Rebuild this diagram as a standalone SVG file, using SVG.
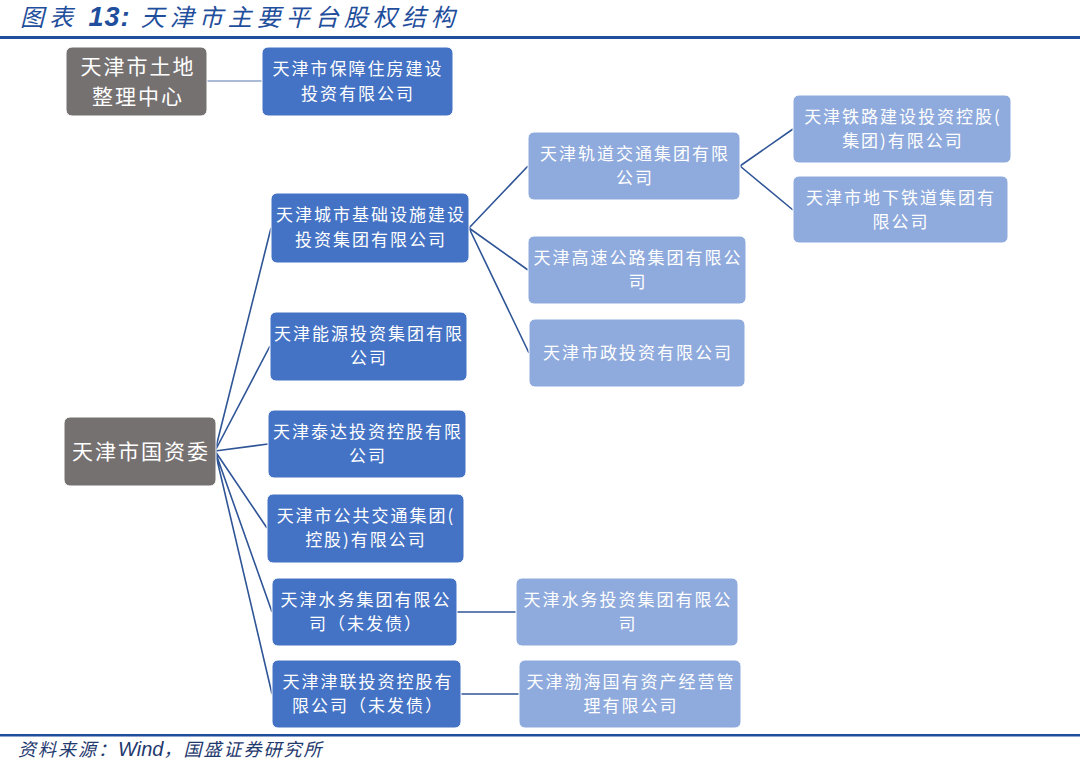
<svg xmlns="http://www.w3.org/2000/svg" width="1080" height="760" viewBox="0 0 1080 760">
<style>
.t{font-family:"Noto Sans CJK SC","Liberation Sans",sans-serif;fill:#fff;text-anchor:middle}
.s{font-size:17px;letter-spacing:2px}
.g{font-size:21px;letter-spacing:2px}
.dk{fill:#4472C4;stroke:#fff;stroke-width:1}
.lt{fill:#8FAADC;stroke:#fff;stroke-width:1}
.gy{fill:#767171;stroke:#fff;stroke-width:1}
.c{stroke:#2F5597;stroke-width:1.6;fill:none}
</style>
<rect width="1080" height="760" fill="#fff"/>
<text x="20" y="26" font-family="'Noto Sans CJK SC','Liberation Sans',sans-serif" font-size="24" font-style="italic" letter-spacing="5" fill="#1F4E9C">图表 <tspan font-family="'Liberation Sans',sans-serif" font-weight="bold" font-size="27" letter-spacing="1">13:</tspan> 天津市主要平台股权结构</text>
<rect x="0" y="36" width="1080" height="3" fill="#1F4E9C"/>
<rect x="0" y="734" width="1080" height="2.5" fill="#1F4E9C"/>
<text x="18" y="756" font-family="'Noto Sans CJK SC','Liberation Sans',sans-serif" font-size="18" font-style="italic" letter-spacing="2" fill="#1F3A6E">资料来源：<tspan font-family="'Liberation Sans',sans-serif" font-size="20" letter-spacing="0">Wind</tspan>，国盛证券研究所</text>
<g id="connectors">
<line x1="207" y1="81" x2="262" y2="81" stroke="#8FA3C8" stroke-width="1.6"/>
<path class="c" d="M215 451 L271 228 M215 451 L270 346 M215 451 L268 444 M215 451 L267 528 M215 451 L272 612 M215 451 L272 694"/>
<path class="c" d="M469 228 L528 166 M469 228 L528 270 M469 228 L529 353"/>
<path class="c" d="M740 166 L793 129 M740 166 L793 210"/>
<path class="c" d="M457 612 L516 612 M461 694 L519 694"/>
</g>
<g id="n-land"><rect class="gy" x="66" y="47" width="141" height="69" rx="6"/><text class="t g" x="138" y="74">天津市土地</text><text class="t g" x="138" y="104">整理中心</text></g>
<g id="n-housing"><rect class="dk" x="262" y="47" width="191" height="69" rx="6"/><text class="t s" x="358" y="75">天津市保障住房建设</text><text class="t s" x="358" y="100">投资有限公司</text></g>
<g id="n-sasac"><rect class="gy" x="64" y="417" width="152" height="69" rx="6"/><text class="t g" x="141" y="459">天津市国资委</text></g>
<g id="n-infra"><rect class="dk" x="271" y="193" width="198" height="70" rx="6"/><text class="t s" x="371" y="221">天津城市基础设施建设</text><text class="t s" x="371" y="246">投资集团有限公司</text></g>
<g id="n-energy"><rect class="dk" x="270" y="312" width="197" height="69" rx="6"/><text class="t s" x="369" y="340">天津能源投资集团有限</text><text class="t s" x="369" y="364">公司</text></g>
<g id="n-teda"><rect class="dk" x="268" y="410" width="198" height="68" rx="6"/><text class="t s" x="368" y="438">天津泰达投资控股有限</text><text class="t s" x="368" y="462">公司</text></g>
<g id="n-bus"><rect class="dk" x="267" y="494" width="197" height="69" rx="6"/><text class="t s" x="366" y="522">天津市公共交通集团(</text><text class="t s" x="366" y="546">控股)有限公司</text></g>
<g id="n-water"><rect class="dk" x="272" y="578" width="185" height="68" rx="6"/><text class="t s" x="366" y="606">天津水务集团有限公</text><text class="t s" x="366" y="630">司（未发债）</text></g>
<g id="n-jinlian"><rect class="dk" x="272" y="660" width="189" height="68" rx="6"/><text class="t s" x="368" y="688">天津津联投资控股有</text><text class="t s" x="368" y="712">限公司（未发债）</text></g>
<g id="n-rail"><rect class="lt" x="528" y="132" width="212" height="68" rx="6"/><text class="t s" x="635" y="160">天津轨道交通集团有限</text><text class="t s" x="635" y="184">公司</text></g>
<g id="n-highway"><rect class="lt" x="528" y="236" width="218" height="68" rx="6"/><text class="t s" x="638" y="264">天津高速公路集团有限公</text><text class="t s" x="638" y="288">司</text></g>
<g id="n-municipal"><rect class="lt" x="529" y="319" width="216" height="68" rx="6"/><text class="t s" x="638" y="359">天津市政投资有限公司</text></g>
<g id="n-railway"><rect class="lt" x="793" y="95" width="218" height="68" rx="6"/><text class="t s" x="903" y="123">天津铁路建设投资控股(</text><text class="t s" x="903" y="147">集团)有限公司</text></g>
<g id="n-metro"><rect class="lt" x="793" y="176" width="215" height="67" rx="6"/><text class="t s" x="901" y="204">天津市地下铁道集团有</text><text class="t s" x="901" y="228">限公司</text></g>
<g id="n-waterinv"><rect class="lt" x="516" y="578" width="222" height="68" rx="6"/><text class="t s" x="628" y="606">天津水务投资集团有限公</text><text class="t s" x="628" y="630">司</text></g>
<g id="n-bohai"><rect class="lt" x="519" y="660" width="222" height="68" rx="6"/><text class="t s" x="631" y="688">天津渤海国有资产经营管</text><text class="t s" x="631" y="712">理有限公司</text></g>
</svg>
